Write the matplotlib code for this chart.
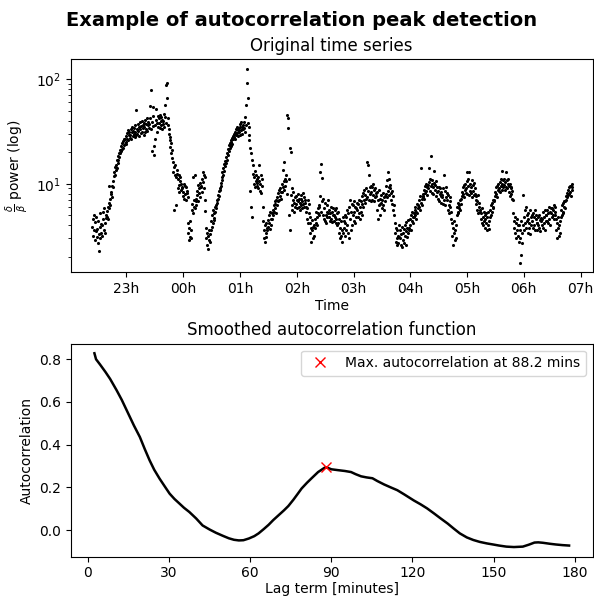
import numpy as np
import pandas as pd
import matplotlib
matplotlib.use("Agg")
import matplotlib.pyplot as plt
import matplotlib.dates as mdates

# delta/beta power, one value every 30 s starting 22:24 (5-min rows)
start_time = "2021-01-01 22:24:00"
sample_step = "30s"
time_window = ("2021-01-01 22:01:00", "2021-01-02 07:13:00")
power = [
    3.9, 4.6, 3.2, 5.0, 3.6, 2.9, 4.3, 3.5, 4.8, 3.1,       # 22:24
    3.7, 2.7, 4.4, 3.3, 2.27, 5.2, 3.9, 3.0, 4.1, 3.4,
    4.0, 3.2, 5.4, 4.6, 3.6, 5.9, 4.2, 3.4, 5.0, 4.7,
    4.8, 5.5, 4.6, 6.0, 9.6, 5.8, 6.6, 7.2, 6.3, 8.0,
    8.4, 7.5, 9.6, 10.5, 9.2, 11.8, 13.0, 12.0, 14.6, 13.4,
    15.2, 14.0, 16.8, 15.8, 18.2, 17.0, 19.5, 18.0, 21.0, 19.8,
    20.5, 22.8, 21.6, 24.5, 22.0, 25.8, 23.4, 26.5, 24.0, 27.0,
    25.0, 28.5, 24.0, 30.5, 27.0, 32.5, 26.0, 29.5, 31.5, 27.5,  # 22:59
    29.0, 33.5, 27.0, 31.0, 35.0, 28.5, 32.0, 30.0, 34.0, 28.0,
    31.0, 36.0, 29.0, 51.0, 33.5, 30.0, 37.5, 32.0, 28.5, 35.0,
    33.0, 38.5, 30.5, 35.5, 40.0, 31.5, 36.5, 34.0, 29.5, 38.0,
    35.0, 31.0, 40.5, 33.5, 37.0, 42.0, 32.0, 38.5, 36.0, 34.0,
    37.0, 42.5, 55.0, 33.0, 79.0, 39.0, 20.5, 44.0, 35.5, 54.0,
    23.0, 19.0, 27.0, 36.0, 52.0, 40.5, 31.0, 38.0, 44.0, 34.5,
    38.0, 42.5, 34.0, 45.0, 39.5, 36.0, 43.0, 33.0, 41.0, 37.5,  # 23:34
    40.0, 46.0, 35.0, 57.0, 43.5, 88.0, 38.0, 92.0, 66.0, 42.0,
    36.0, 30.0, 33.5, 26.0, 28.0, 22.5, 24.5, 19.5, 21.0, 17.5,
    16.0, 13.0, 14.5, 5.6, 12.0, 15.0, 6.2, 11.5, 13.5, 12.5,
    11.0, 9.0, 12.0, 9.8, 8.4, 10.5, 11.5, 8.8, 10.0, 9.4,
    9.0, 7.6, 8.4, 10.0, 7.2, 9.5, 8.0, 7.0, 9.2, 8.6,
    8.2, 7.4, 4.2, 3.4, 2.9, 3.8, 3.1, 4.4, 3.6, 3.0,          # 00:04
    5.6, 6.4, 11.5, 5.2, 7.0, 6.0, 12.2, 5.8, 6.8, 6.2,
    7.2, 8.6, 7.8, 9.8, 6.8, 9.0, 8.2, 10.2, 7.5, 9.4,
    9.6, 11.0, 8.4, 13.0, 10.4, 12.0, 9.0, 11.5, 7.0, 5.5,
    3.8, 3.0, 3.4, 2.6, 3.2, 2.4, 2.9, 3.6, 2.8, 3.3,
    3.6, 4.4, 3.9, 5.0, 4.2, 5.6, 4.7, 5.2, 4.5, 6.0,
    5.4, 6.2, 5.8, 7.0, 6.5, 7.8, 7.2, 8.6, 7.6, 9.0,          # 00:34
    8.8, 10.2, 9.6, 11.5, 10.8, 12.8, 12.0, 14.2, 13.2, 15.5,
    14.8, 16.5, 15.8, 18.0, 17.0, 19.8, 18.8, 21.5, 20.5, 23.5,
    22.0, 24.5, 23.0, 26.0, 25.0, 27.5, 24.0, 28.5, 26.5, 30.0,
    28.0, 31.5, 27.0, 33.0, 29.5, 35.0, 30.5, 32.5, 28.5, 34.0,
    31.0, 35.0, 29.0, 37.0, 32.5, 38.5, 30.0, 34.5, 36.0, 33.0,
    34.0, 39.0, 31.5, 43.0, 36.5, 57.0, 125.0, 92.0, 66.0, 38.0,  # 01:04
    35.0, 29.0, 26.0, 22.0, 8.5, 19.5, 6.0, 17.0, 4.8, 15.0,
    12.5, 10.0, 11.5, 9.2, 13.2, 10.6, 12.0, 9.6, 11.0, 10.2,
    11.5, 9.0, 10.5, 15.0, 8.6, 10.0, 12.0, 8.2, 9.5, 11.0,
    6.0, 4.4, 3.6, 3.0, 4.0, 2.8, 3.4, 4.2, 3.1, 3.8,
    3.6, 4.5, 3.9, 5.0, 4.2, 3.7, 5.4, 4.6, 4.0, 5.2,
    4.6, 5.6, 5.0, 6.2, 5.4, 6.8, 5.8, 6.4, 5.2, 7.0,          # 01:34
    6.2, 7.4, 6.8, 8.2, 7.0, 8.8, 7.6, 9.0, 7.2, 8.4,
    8.4, 10.0, 9.2, 13.5, 10.6, 8.8, 16.0, 11.0, 9.6, 12.0,
    10.5, 45.0, 8.0, 42.0, 34.0, 11.0, 5.0, 22.0, 3.6, 20.0,
    7.8, 6.2, 9.0, 5.6, 7.0, 8.4, 6.6, 5.4, 7.4, 6.0,
    6.4, 7.6, 5.8, 7.0, 6.8, 8.0, 6.0, 7.2, 5.6, 6.6,
    7.2, 6.2, 7.8, 5.8, 6.8, 8.2, 6.4, 7.4, 6.0, 7.0,          # 02:04
    6.6, 5.4, 6.0, 4.6, 5.8, 7.0, 4.2, 5.2, 6.4, 4.8,
    4.2, 3.4, 3.8, 2.8, 3.6, 4.5, 3.0, 3.9, 3.2, 4.0,
    3.8, 4.6, 4.2, 5.4, 4.0, 4.8, 5.8, 5.2, 6.2, 5.0,
    6.0, 7.6, 13.0, 5.4, 15.5, 6.8, 11.3, 5.0, 7.2, 4.6,
    5.8, 4.4, 6.6, 5.0, 4.2, 6.2, 5.4, 4.8, 7.0, 5.2,
    4.8, 5.6, 4.4, 5.2, 6.0, 4.6, 5.4, 4.3, 5.0, 5.8,          # 02:34
    5.0, 4.4, 5.6, 4.8, 4.2, 5.8, 4.6, 5.2, 4.0, 5.4,
    4.2, 3.4, 4.6, 3.0, 3.8, 3.2, 4.4, 2.8, 3.6, 4.8,
    3.4, 4.4, 3.8, 5.0, 3.2, 4.2, 3.6, 4.8, 4.0, 5.6,
    5.2, 3.4, 6.0, 3.0, 4.6, 7.0, 3.6, 5.4, 4.0, 6.4,
    5.0, 6.2, 4.4, 6.8, 5.4, 4.2, 6.0, 5.8, 4.8, 6.6,
    5.6, 4.8, 6.4, 5.2, 7.0, 4.6, 6.0, 5.4, 6.8, 5.0,          # 03:04
    6.4, 7.6, 6.0, 8.2, 7.0, 8.8, 6.6, 7.8, 9.0, 7.2,
    7.4, 16.2, 8.6, 15.0, 12.2, 7.0, 9.2, 8.0, 9.6, 6.8,
    8.4, 7.0, 9.4, 7.8, 10.0, 8.8, 6.8, 9.0, 7.4, 8.2,
    7.6, 5.6, 8.4, 4.6, 7.0, 6.2, 8.8, 5.0, 7.2, 6.4,
    6.6, 7.8, 5.8, 7.0, 6.2, 8.2, 5.6, 7.4, 6.8, 7.6,
    8.0, 9.6, 7.4, 10.8, 13.0, 8.6, 9.2, 11.0, 7.8, 9.8,       # 03:34
    9.0, 8.2, 7.0, 8.6, 6.4, 7.6, 5.6, 6.2, 5.0, 4.2,
    3.4, 2.8, 3.8, 3.0, 2.6, 3.6, 3.2, 2.7, 4.0, 3.1,
    3.0, 3.6, 2.6, 3.3, 2.5, 3.9, 2.9, 3.4, 2.7, 3.7,
    3.2, 4.0, 3.5, 2.6, 4.3, 3.1, 3.8, 3.4, 4.5, 3.6,
    3.8, 4.6, 4.0, 5.0, 3.6, 4.4, 5.4, 4.2, 4.8, 5.2,
    4.8, 5.6, 5.0, 6.0, 4.6, 5.4, 6.4, 5.2, 5.8, 6.2,          # 04:04
    6.0, 7.0, 5.6, 7.6, 6.6, 14.0, 7.2, 6.2, 8.0, 7.4,
    7.6, 8.8, 7.2, 9.6, 8.2, 10.0, 8.6, 9.2, 7.8, 9.8,
    9.0, 10.4, 14.0, 8.6, 11.0, 9.6, 18.2, 10.0, 8.2, 10.8,
    9.4, 8.0, 10.2, 13.2, 8.8, 9.8, 7.6, 10.6, 8.4, 9.2,
    8.6, 7.2, 9.4, 6.8, 8.0, 9.0, 7.6, 6.6, 8.4, 7.4,
    7.8, 6.4, 9.0, 12.0, 7.0, 8.6, 6.2, 9.4, 7.4, 8.2,         # 04:34
    7.0, 5.6, 7.8, 6.2, 5.2, 7.4, 6.0, 6.8, 5.4, 4.6,
    4.2, 3.2, 3.8, 2.6, 3.4, 4.4, 2.9, 3.6, 3.0, 4.0,
    5.0, 6.0, 5.4, 6.6, 5.2, 6.2, 5.8, 7.0, 5.6, 6.4,
    7.2, 8.4, 7.6, 9.2, 8.0, 9.8, 7.4, 8.8, 10.0, 8.2,
    9.0, 10.6, 8.0, 13.0, 9.6, 11.0, 7.8, 12.8, 10.0, 8.6,
    9.4, 8.2, 10.8, 7.4, 9.8, 8.6, 10.2, 7.8, 9.0, 8.0,        # 05:04
    7.6, 6.4, 7.0, 5.6, 6.8, 7.8, 5.2, 6.0, 6.6, 5.4,
    5.6, 4.6, 5.2, 4.2, 5.8, 4.8, 4.0, 5.4, 4.4, 5.0,
    4.6, 3.8, 5.2, 4.2, 3.6, 4.8, 4.0, 5.4, 3.7, 4.4,
    4.8, 5.6, 5.0, 6.2, 5.4, 6.6, 5.8, 7.0, 6.0, 6.8,
    7.0, 8.4, 7.6, 9.2, 8.0, 9.6, 7.4, 8.8, 10.0, 8.6,
    9.0, 10.4, 8.4, 11.0, 9.6, 13.2, 8.8, 10.0, 9.2, 10.8,     # 05:34
    9.8, 11.2, 8.8, 10.4, 13.0, 9.4, 10.8, 9.0, 11.0, 10.0,
    9.6, 8.4, 10.0, 7.6, 9.0, 8.0, 9.4, 7.2, 8.6, 7.0,
    5.2, 4.4, 3.8, 4.8, 3.4, 4.2, 3.0, 4.6, 3.6, 4.0,
    3.2, 4.0, 2.8, 3.6, 1.76, 3.0, 4.4, 2.1, 3.4, 2.7,
    4.0, 7.8, 4.8, 3.6, 5.6, 4.2, 6.0, 3.8, 5.0, 4.4,
    4.6, 3.4, 5.2, 3.8, 4.2, 5.6, 3.3, 4.8, 4.0, 5.0,          # 06:04
    4.4, 5.2, 3.8, 4.8, 4.0, 5.6, 3.6, 4.6, 5.0, 4.2,
    4.2, 3.6, 4.8, 4.0, 5.0, 3.8, 4.5, 3.5, 4.4, 4.7,
    4.6, 4.0, 5.4, 3.8, 4.8, 4.2, 5.6, 3.6, 4.4, 5.0,
    5.0, 4.4, 5.6, 4.2, 5.2, 6.0, 4.6, 5.4, 4.0, 5.8,
    5.2, 5.8, 4.8, 5.6, 5.0, 6.2, 4.6, 5.4, 6.0, 5.0,
    4.6, 3.6, 4.2, 3.0, 3.8, 4.8, 3.2, 4.0, 3.4, 4.4,          # 06:34
    4.8, 5.6, 5.0, 6.2, 5.4, 6.6, 5.2, 6.0, 6.8, 5.8,
    6.8, 7.6, 7.0, 8.2, 7.4, 8.8, 7.8, 9.2, 8.0, 9.6,
    8.4, 9.6, 7.6, 10.0, 8.8, 9.2,
]

# smoothed autocorrelation function
lag_minutes = [
    2.4, 3.0, 4.5, 6.5, 8.2, 10.6, 12.5, 14.3, 17, 19.2, 21, 22.8, 24.5,
    26.5, 28.5, 30.2, 32, 33.8, 35.5, 37.5, 40, 42.4, 45, 47.3, 50, 52.1,
    54, 55.8, 57.5, 59.5, 61.5, 63.1, 65, 66.8, 68.5, 70.5, 72.5, 74.1, 76,
    77.8, 79, 81, 82.7, 85.1, 87.6, 88.2, 90, 92.4, 95, 97.3, 99, 101, 103,
    105.2, 107, 109.5, 112, 114.4, 117, 120.5, 123, 125.4, 128, 130.3, 133,
    135.2, 137.5, 140.1, 142.5, 144.9, 147.5, 149.8, 152, 154.7, 157.5,
    160.8, 163, 165.1, 166.5, 168.2, 171, 173, 175.5, 177.9,
]
acf = [
    0.828, 0.80, 0.775, 0.74, 0.708, 0.655, 0.61, 0.562, 0.49, 0.436, 0.38,
    0.327, 0.283, 0.241, 0.203, 0.171, 0.146, 0.125, 0.105, 0.085, 0.055,
    0.022, 0.003, -0.012, -0.027, -0.038, -0.045, -0.048, -0.047, -0.039,
    -0.028, -0.015, 0.005, 0.025, 0.047, 0.07, 0.093, 0.113, 0.143, 0.174,
    0.195, 0.222, 0.243, 0.272, 0.293, 0.294, 0.285, 0.281, 0.277, 0.272,
    0.262, 0.252, 0.247, 0.243, 0.23, 0.214, 0.2, 0.187, 0.167, 0.139,
    0.121, 0.102, 0.078, 0.056, 0.031, 0.008, -0.015, -0.034, -0.046,
    -0.055, -0.062, -0.067, -0.072, -0.077, -0.079, -0.077, -0.068, -0.058,
    -0.057, -0.059, -0.064, -0.067, -0.07, -0.072,
]
peak_lag = 88.2
peak_acf = 0.294

times = pd.date_range(start_time, periods=len(power), freq=sample_step)

fig, (ax1, ax2) = plt.subplots(2, 1, figsize=(5.94, 5.98), dpi=100)
fig.subplots_adjust(left=0.119, right=0.998, top=0.901, bottom=0.069, hspace=0.334)
fig.suptitle("Example of autocorrelation peak detection", fontsize=14, fontweight="bold",
             x=0.508, y=0.982)

# original time series
ax1.scatter(times, power, s=5, c="k", linewidths=0)
ax1.set_yscale("log")
ax1.set_xlim(pd.Timestamp(time_window[0]), pd.Timestamp(time_window[1]))
ax1.xaxis.set_major_locator(mdates.HourLocator())
ax1.xaxis.set_major_formatter(mdates.DateFormatter("%Hh"))
ax1.set_title("Original time series")
ax1.set_xlabel("Time", labelpad=2)
ax1.set_ylabel(r"$\frac{\delta}{\beta}$ power (log)")

# autocorrelation
ax2.plot(lag_minutes, acf, color="k", linewidth=1.8)
ax2.plot(peak_lag, peak_acf, "x", color="red", markersize=7,
         label=f"Max. autocorrelation at {peak_lag} mins")
ax2.set_xticks([0, 30, 60, 90, 120, 150, 180])
ax2.set_title("Smoothed autocorrelation function")
ax2.set_xlabel("Lag term [minutes]", labelpad=1)
ax2.set_ylabel("Autocorrelation")
ax2.legend(loc="upper right")

fig.savefig("out.png", dpi=100)
